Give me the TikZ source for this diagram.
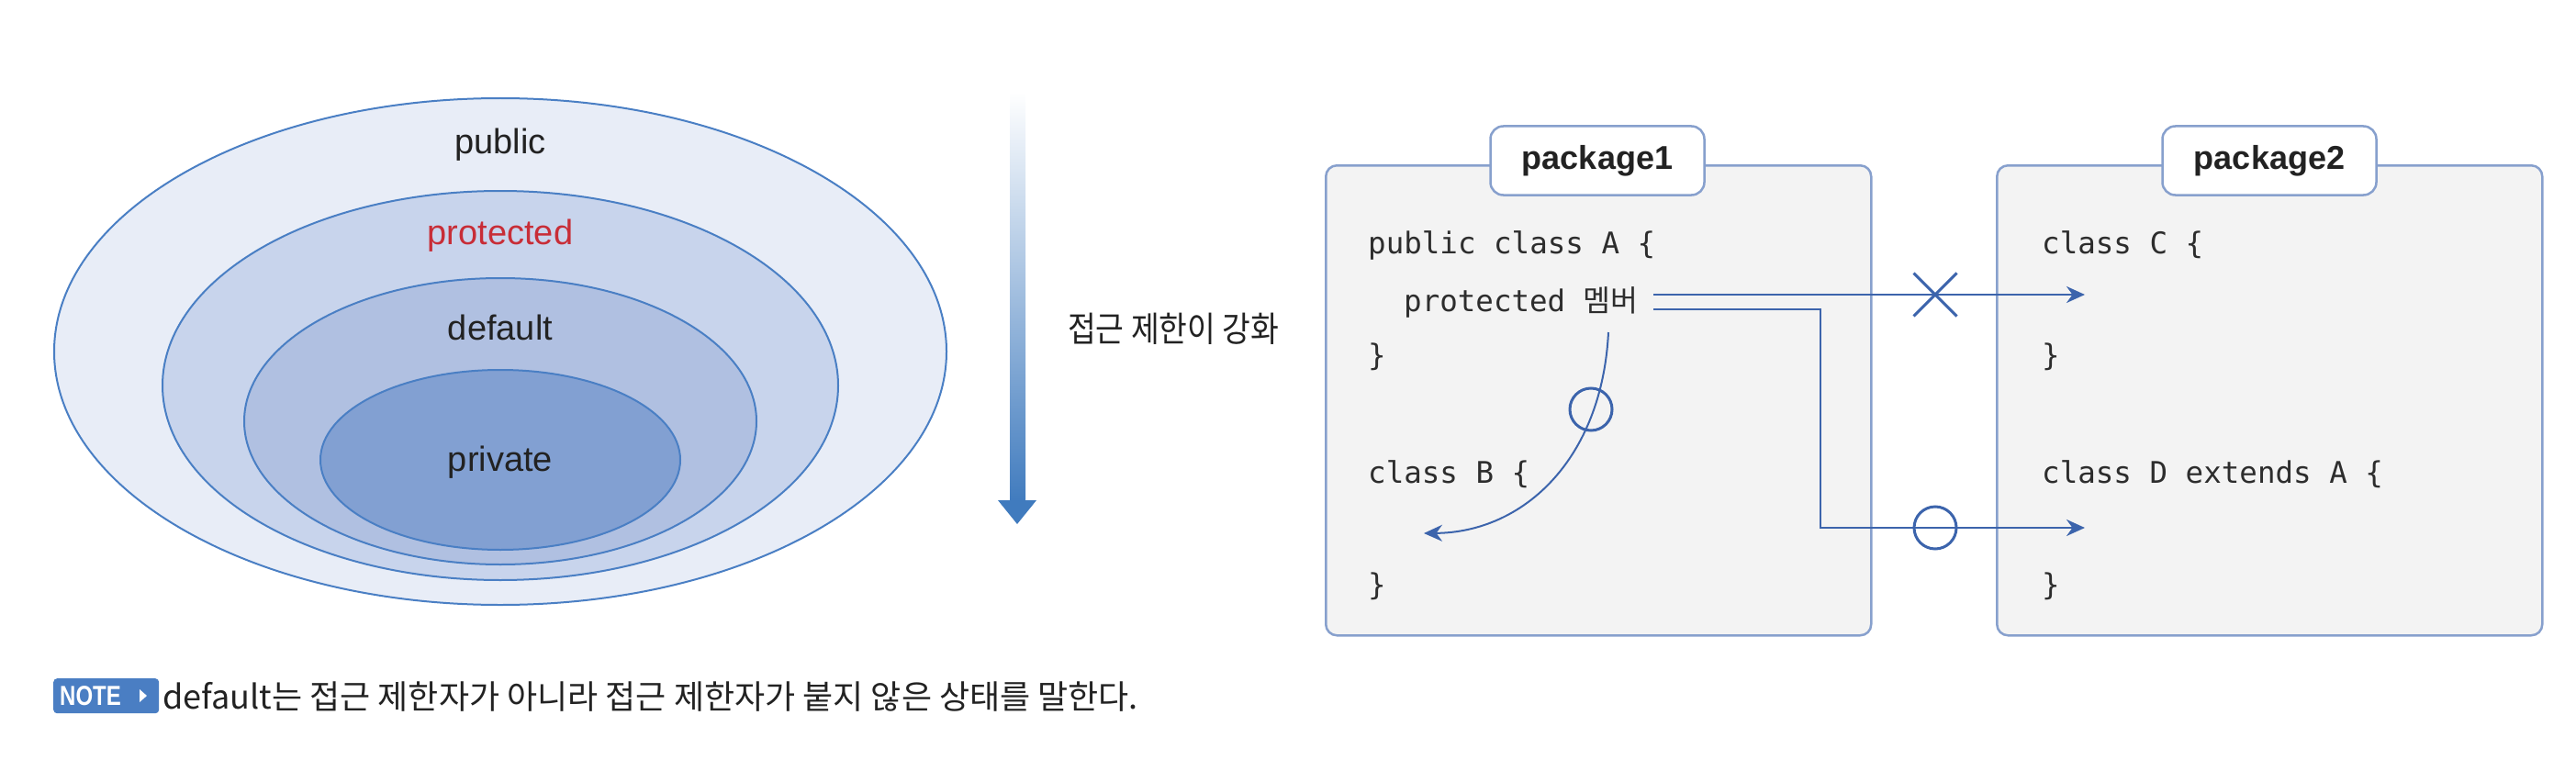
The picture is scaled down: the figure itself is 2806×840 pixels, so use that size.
\documentclass[tikz,border=0pt]{standalone}
\usepackage{fontspec}
\setmainfont{Liberation Sans}
\setmonofont{DejaVu Sans Mono}
\newfontfamily\krfont{Noto Sans CJK KR}
\newfontfamily\krnarrow[FakeStretch=0.88]{Noto Sans CJK KR}
\newfontfamily\notefont[FakeStretch=0.8]{Liberation Sans}
\usetikzlibrary{arrows.meta,shapes.misc,shapes.geometric}
\definecolor{ellline}{RGB}{74,127,196}
\definecolor{fillA}{RGB}{232,237,247}
\definecolor{fillB}{RGB}{200,212,236}
\definecolor{fillC}{RGB}{176,192,225}
\definecolor{fillD}{RGB}{130,160,210}
\definecolor{txt}{RGB}{34,34,34}
\definecolor{protred}{RGB}{200,45,55}
\definecolor{arrblue}{RGB}{64,123,190}
\definecolor{pkgline}{RGB}{135,160,205}
\definecolor{pkgfill}{RGB}{243,243,243}
\definecolor{connc}{RGB}{60,100,172}
\definecolor{codec}{RGB}{45,45,45}
\definecolor{noteblue}{RGB}{74,126,195}
\begin{document}
\begin{tikzpicture}[x=1pt,y=-1pt,
  ell/.style={ellipse, draw=ellline, line width=2pt, inner sep=0pt},
  lbl/.style={font=\fontsize{38}{40}\selectfont, text=txt},
  pkg/.style={draw=pkgline, fill=pkgfill, line width=2.5pt, rounded corners=12pt, anchor=north west, minimum width=594pt, minimum height=512pt},
  tabbox/.style={draw=pkgline, fill=white, line width=2.5pt, rounded corners=14pt, minimum width=233pt, minimum height=75pt, inner sep=0pt, font=\bfseries\fontsize{36}{38}\selectfont, text=txt},
  code/.style={anchor=west, font=\ttfamily\fontsize{32.5}{34}\selectfont, text=codec, inner sep=0pt, text height=24pt, text depth=8pt},
  conn/.style={draw=connc, line width=2.5pt, -{Stealth[length=20pt,width=18pt]}},
  okmark/.style={circle, draw=connc, line width=3pt, minimum size=46pt, inner sep=0pt},
  nomark/.style={cross out, draw=connc, line width=3pt, minimum size=44pt, inner sep=0pt}
]
\useasboundingbox (0,0) rectangle (2806,840);

% nested ellipses
\node[ell, fill=fillA, minimum width=972pt, minimum height=552pt] (e1) at (545,383) {};
\node[ell, fill=fillB, minimum width=736pt, minimum height=424pt] (e2) at (545,420) {};
\node[ell, fill=fillC, minimum width=558pt, minimum height=312pt] (e3) at (545,459) {};
\node[ell, fill=fillD, minimum width=392pt, minimum height=196pt] (e4) at (545,501) {};
\node[lbl] (lpub) at (545,158) {public};
\node[lbl, text=protred] (lpro) at (545,257) {protected};
\node[lbl] (ldef) at (545,357) {default};
\node[lbl] (lpri) at (545,504) {private};

% gradient arrow
\shade[top color=white, bottom color=arrblue] (1100,100) rectangle (1117,548);
\fill[arrblue] (1087,545) -- (1129,545) -- (1108,571) -- cycle;
\node[anchor=west, font=\krnarrow\fontsize{38}{40}\selectfont, text=txt, inner sep=0pt] (strong) at (1163,358) {접근 제한이 강화};

% packages
\node[pkg] (p1) at (1443,179) {};
\node[tabbox] (t1) at (1740,175) {package1};
\node[pkg] (p2) at (2174,179) {};
\node[tabbox] (t2) at (2472,175) {package2};

\node[code] (a1) at (1490,268) {public class A \{};
\node[code] (a2) at (1529,331) {protected {\krfont 멤버}};
\node[code] (a3) at (1490,390) {\}};
\node[code] (b1) at (1490,518) {class B \{};
\node[code] (b2) at (1490,640) {\}};
\node[code] (c1) at (2224,268) {class C \{};
\node[code] (c2) at (2224,390) {\}};
\node[code] (d1) at (2224,518) {class D extends A \{};
\node[code] (d2) at (2224,640) {\}};

% connectors
\coordinate (m1) at (1801,321);
\coordinate (m2) at (1801,337);
\coordinate (tc) at (2271,321);
\coordinate (corner) at (1983,575);
\coordinate (td) at (2271,575);
\coordinate (cs) at (1752,362);
\coordinate (ce) at (1551,581);
\draw[conn] (m1) -- (tc);
\draw[conn] (m2) -| (corner) -- (td);
\draw[conn, line width=2pt] (cs) .. controls (1745,500) and (1660,580) .. (ce);
\node[nomark] (xC) at (2108,321) {};
\node[okmark] (oD) at (2108,575) {};
\node[okmark] (oB) at (1733,446) {};

% note
\node[fill=noteblue, rounded corners=4pt, minimum width=115pt, minimum height=38pt, anchor=north west, inner sep=0pt] (nb) at (58,739) {};
\node[anchor=west, text=white, inner sep=0pt, font=\notefont\bfseries\fontsize{30}{32}\selectfont] (nt) at (65,758) {NOTE};
\fill[white] (152,751) -- (160,758) -- (152,765) -- cycle;
\node[anchor=west, inner sep=0pt, text=txt, font=\krfont\fontsize{36}{38}\selectfont] (note) at (177,759) {default는 접근 제한자가 아니라 접근 제한자가 붙지 않은 상태를 말한다.};
\end{tikzpicture}
\end{document}
